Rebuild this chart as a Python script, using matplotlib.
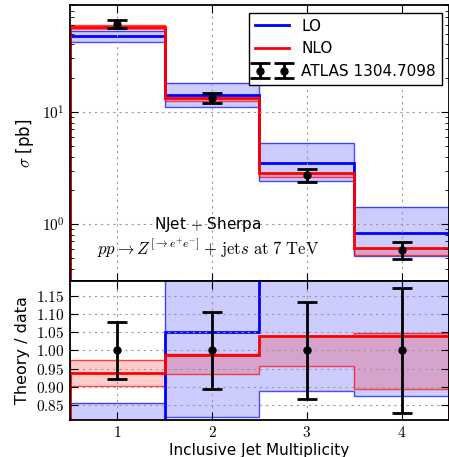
import numpy as np
import matplotlib
matplotlib.use("Agg")
import matplotlib.pyplot as plt
from matplotlib.ticker import FuncFormatter, NullFormatter, MultipleLocator

plt.rcParams['mathtext.fontset'] = 'cm'
plt.rcParams['font.size'] = 11

# bins / data
edges = [0.5, 1.5, 2.5, 3.5, 4.5]
njets = [1, 2, 3, 4]
data = [61.0, 13.4, 2.74, 0.586]
data_err = [4.8, 1.41, 0.365, 0.10]
lo = [47.7, 14.07, 3.48, 0.826]
lo_lo = [42.5, 10.97, 2.44, 0.513]
lo_hi = [52.3, 18.3, 5.25, 1.41]
nlo = [57.2, 13.22, 2.845, 0.609]
nlo_lo = [55.1, 12.54, 2.62, 0.524]
nlo_hi = [59.4, 13.27, 2.85, 0.614]

data_a = np.array(data)

fig = plt.figure(figsize=(4.49, 4.57), dpi=100)
ax = fig.add_axes([0.1548, 0.3851, 0.8463, 0.6039])
rax = fig.add_axes([0.1548, 0.081, 0.8463, 0.3042], sharex=ax)


def band(a, lo_v, hi_v, col, z):
    lo_v = list(lo_v) + [lo_v[-1]]
    hi_v = list(hi_v) + [hi_v[-1]]
    a.fill_between(edges, lo_v, hi_v, step='post', facecolor=col, alpha=0.2,
                   edgecolor='none', zorder=z)
    a.stairs(lo_v[:-1], edges, color=col, lw=1, alpha=0.7, zorder=z)
    a.stairs(hi_v[:-1], edges, color=col, lw=1, alpha=0.7, zorder=z)


for a, scale in [(ax, np.ones(4)), (rax, data_a)]:
    band(a, np.array(lo_lo) / scale, np.array(lo_hi) / scale, 'blue', 1)
    band(a, np.array(nlo_lo) / scale, np.array(nlo_hi) / scale, 'red', 1.1)
    a.stairs(np.array(lo) / scale, edges, color='blue', lw=2, zorder=2, label='LO')
    a.stairs(np.array(nlo) / scale, edges, color='red', lw=2, zorder=2.1, label='NLO')
    if a is ax:
        a.errorbar(njets, data, yerr=data_err, fmt='o', color='k', ms=5, lw=2,
                   capsize=7, capthick=2, zorder=3, label='ATLAS 1304.7098')
    else:
        a.errorbar(njets, np.ones(4), yerr=np.array(data_err) / data_a, fmt='o',
                   color='k', ms=5, lw=2, capsize=7, capthick=2, zorder=3)
    a.set_axisbelow(False)
    a.grid(True, which='major', ls=(0, (2, 3.5)), color='#999999', lw=0.8)
    a.tick_params(which='both', direction='in', top=True, right=True, labelsize=11)
    a.tick_params(which='major', length=6)
    a.tick_params(which='minor', length=3)
    for s in a.spines.values():
        s.set_linewidth(1.3)

ax.set_yscale('log')
ax.set_ylim(0.31, 90)
ax.set_xlim(0.5, 4.5)
ax.yaxis.set_major_formatter(FuncFormatter(lambda v, p: r'$10^{%d}$' % round(np.log10(v))))
ax.yaxis.set_minor_formatter(NullFormatter())
ax.tick_params(labelbottom=False)
ax.set_ylabel(r'$\sigma$ [pb]', fontsize=12)

leg = ax.legend(loc='upper right', numpoints=2, fancybox=False, edgecolor='black',
                framealpha=1, fontsize=11, handlelength=2.2)
leg.get_frame().set_linewidth(1)

ax.text(0.365, 0.203, r'NJet $+$ Sherpa', transform=ax.transAxes, ha='center',
        va='center', fontsize=11)
ax.text(0.365, 0.12, r'$pp\to Z^{[\to e^{+}e^{-}]}+\,\mathrm{jet}s\ \mathrm{at\ 7\ TeV}$',
        transform=ax.transAxes, ha='center', va='center', fontsize=12)

rax.set_ylim(0.81, 1.19)
rax.yaxis.set_major_locator(MultipleLocator(0.05))
rax.yaxis.set_major_formatter(FuncFormatter(lambda v, p: r'$%.2f$' % v))
rax.xaxis.set_major_locator(MultipleLocator(1))
rax.xaxis.set_major_formatter(FuncFormatter(lambda v, p: r'$%d$' % v))
rax.set_ylabel('Theory / data', fontsize=11.5)
rax.set_xlabel('Inclusive Jet Multiplicity', labelpad=2)

fig.savefig('out.png', dpi=100)
